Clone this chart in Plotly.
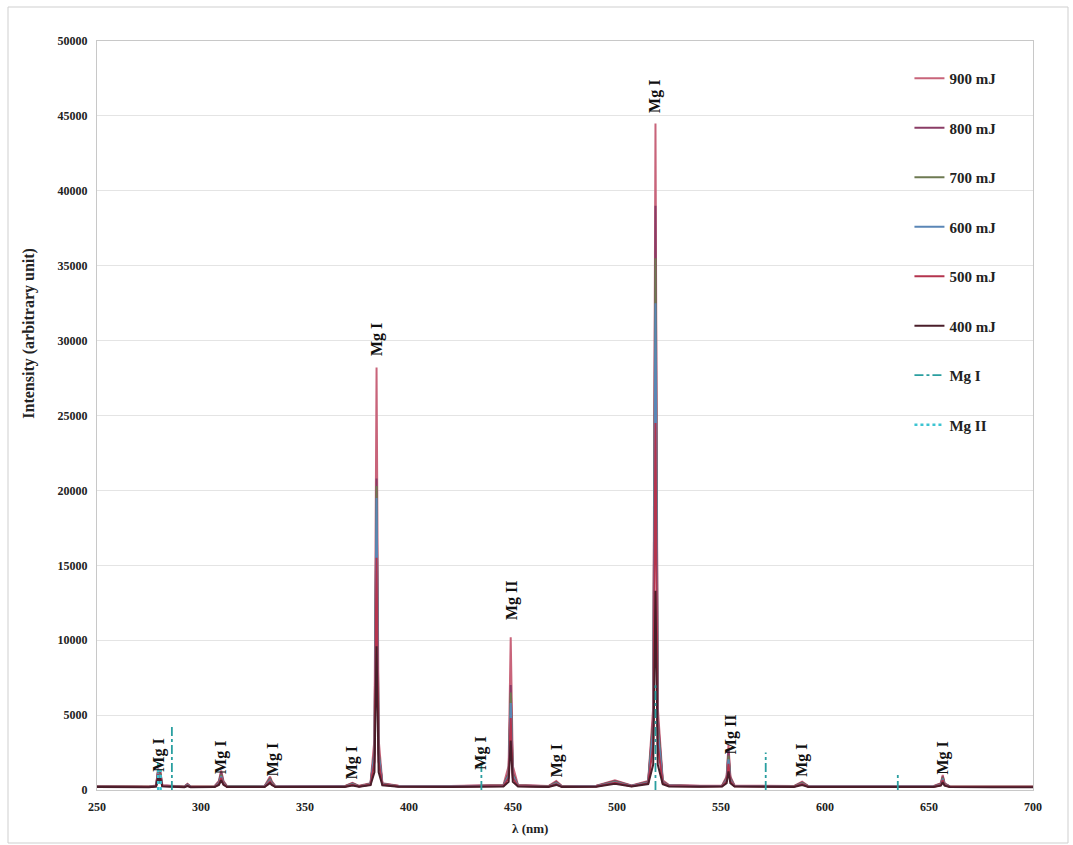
import plotly.graph_objects as go

# ---------------- data ----------------
wavelength = [250, 262, 275, 278.4, 279.4, 279.9, 280.4, 281.4, 292, 293.5,
              295, 306.5, 308.6, 309.7, 310.8, 312.5, 330.5, 333.2, 334.0, 335.8,
              369, 372.8, 376, 381.5, 383.4, 384.4, 385.4, 387.2, 395, 420,
              445.4, 447.9, 448.9, 449.9, 452.4, 467, 470.8, 473.5, 490, 499,
              507, 515.0, 517.4, 518.5, 519.6, 522, 525, 540, 550.5, 552.7,
              553.6, 554.5, 556.5, 585, 589.0, 592, 620, 652, 655.7, 656.6,
              657.5, 660, 680, 700]

i_900 = [260, 250, 240, 300, 1450, 700, 1300, 320, 240, 420,
         240, 250, 600, 1300, 600, 260, 250, 900, 600, 250,
         260, 480, 280, 450, 3400, 28200, 3400, 450, 280, 270,
         330, 1600, 10200, 1600, 330, 260, 600, 260, 280, 650,
         300, 600, 5500, 44500, 5500, 650, 330, 280, 300, 900,
         3000, 900, 300, 260, 560, 260, 250, 250, 450, 1000,
         450, 250, 240, 240]
i_800 = [240, 230, 225, 280, 1350, 650, 1200, 300, 225, 390,
         225, 235, 540, 1150, 540, 240, 235, 800, 540, 235,
         245, 440, 260, 420, 2600, 20800, 2600, 420, 260, 250,
         310, 1150, 7000, 1150, 310, 245, 540, 245, 265, 600,
         285, 550, 4800, 39000, 4800, 560, 310, 265, 285, 800,
         2600, 800, 285, 245, 510, 245, 235, 235, 420, 900,
         420, 235, 225, 225]
i_700 = [230, 220, 215, 270, 1250, 600, 1100, 280, 215, 360,
         215, 225, 490, 1020, 490, 230, 225, 720, 490, 225,
         235, 410, 250, 400, 2500, 20300, 2500, 400, 250, 240,
         295, 1050, 6500, 1050, 295, 235, 490, 235, 255, 560,
         275, 520, 4400, 35500, 4400, 520, 295, 255, 270, 720,
         2300, 720, 270, 235, 470, 235, 225, 225, 390, 820,
         390, 225, 215, 215]
i_600 = [220, 210, 205, 260, 1150, 560, 1000, 270, 205, 330,
         205, 215, 440, 920, 440, 220, 215, 640, 440, 215,
         225, 380, 240, 380, 2400, 19500, 2400, 380, 240, 230,
         280, 950, 5800, 950, 280, 225, 440, 225, 245, 520,
         265, 490, 4000, 32500, 4000, 490, 280, 245, 260, 650,
         2050, 650, 260, 225, 430, 225, 215, 215, 360, 740,
         360, 215, 205, 205]
i_500 = [210, 200, 195, 250, 1050, 520, 950, 260, 195, 300,
         195, 205, 400, 820, 400, 210, 205, 570, 400, 205,
         215, 350, 230, 360, 1900, 15500, 1900, 360, 230, 220,
         265, 800, 4800, 800, 265, 215, 400, 215, 235, 480,
         255, 460, 3000, 24500, 3000, 450, 265, 235, 250, 580,
         1750, 580, 250, 215, 390, 215, 205, 205, 330, 660,
         330, 205, 195, 195]
i_400 = [200, 190, 185, 230, 900, 450, 800, 240, 185, 270,
         185, 195, 340, 650, 340, 200, 195, 460, 340, 195,
         205, 300, 215, 320, 1200, 9600, 1200, 320, 215, 205,
         240, 550, 3300, 550, 240, 205, 340, 205, 220, 420,
         235, 400, 1700, 13300, 1700, 380, 240, 220, 230, 450,
         1250, 450, 230, 205, 330, 205, 195, 195, 290, 520,
         290, 195, 185, 185]

series_names = ["900 mJ", "800 mJ", "700 mJ", "600 mJ", "500 mJ", "400 mJ"]
series_values = [i_900, i_800, i_700, i_600, i_500, i_400]
series_colors = ["#c8647a", "#8a3c66", "#6e7a52", "#5a86b6", "#b4344e", "#4a1e2a"]

# reference lines (NIST)
mg1_lines_x = [286.0, 434.8, 518.5, 571.5, 635.0]
mg1_lines_h = [4300, 2600, 7000, 2500, 1000]
mg2_lines_x = [279.4, 280.6]
mg2_lines_h = [1800, 1700]

# peak labels
label_text = ["Mg I", "Mg I", "Mg I", "Mg I", "Mg I", "Mg I", "Mg II", "Mg I",
              "Mg I", "Mg II", "Mg I", "Mg I"]
label_x = [279.4, 309.7, 334.7, 372.7, 384.6, 434.8, 449.2, 470.9,
           518.5, 554.6, 588.8, 656.6]
label_y = [2300, 2150, 2000, 1800, 30100, 2450, 12700, 1950,
           46300, 3700, 2000, 2150]

y_ticks = [0, 5000, 10000, 15000, 20000, 25000, 30000, 35000, 40000, 45000, 50000]
x_ticks = [250, 300, 350, 400, 450, 500, 550, 600, 650, 700]

# ---------------- figure ----------------
assert all(len(v) == len(wavelength) for v in series_values)

FONT = "Liberation Serif"
fig = go.Figure()

for i, (name, vals, col) in enumerate(zip(series_names, series_values, series_colors)):
    fig.add_trace(go.Scatter(x=wavelength, y=vals, mode="lines",
                             name="<b>%s</b>" % name,
                             line=dict(color=col, width=2),
                             legendgroup="g%d" % i))


def segs(xs, hs):
    sx, sy = [], []
    for x, h in zip(xs, hs):
        sx += [x, x, None]
        sy += [0, h, None]
    return sx, sy


mx, my = segs(mg1_lines_x, mg1_lines_h)
fig.add_trace(go.Scatter(x=mx, y=my, mode="lines", name="<b>Mg I</b>",
                         line=dict(color="#2a9fa0", width=1.8, dash="dashdot"),
                         legendgroup="g6"))
mx, my = segs(mg2_lines_x, mg2_lines_h)
fig.add_trace(go.Scatter(x=mx, y=my, mode="lines", name="<b>Mg II</b>",
                         line=dict(color="#3cc4d2", width=2.4, dash="dot"),
                         legendgroup="g7"))

for t, x, y in zip(label_text, label_x, label_y):
    fig.add_annotation(x=x, y=y, text="<b>%s</b>" % t, textangle=-90,
                       showarrow=False, xanchor="center", yanchor="middle",
                       font=dict(family=FONT, size=16, color="#111111"))

# axis titles as annotations
fig.add_annotation(xref="paper", yref="paper", x=-0.072, y=0.61,
                   text="<b>Intensity (arbitrary unit)</b>", textangle=-90,
                   showarrow=False, xanchor="center", yanchor="middle",
                   font=dict(family=FONT, size=16, color="#222222"))
fig.add_annotation(xref="paper", yref="paper", x=0.4626, y=-0.051,
                   text="<b>λ (nm)</b>", showarrow=False,
                   xanchor="center", yanchor="middle",
                   font=dict(family=FONT, size=13, color="#222222"))

# outer frame of the picture
fig.add_shape(type="rect", xref="paper", yref="paper",
              x0=(8 - 97) / 936, x1=(1068 - 97) / 936,
              y0=(790 - 843) / 749, y1=(790 - 7) / 749,
              line=dict(color="#cfcfcf", width=1), layer="below")

fig.update_layout(
    width=1073, height=845,
    margin=dict(l=97, r=40, t=41, b=55),
    paper_bgcolor="white", plot_bgcolor="white",
    showlegend=True,
    legend=dict(x=0.868, y=0.972, xanchor="left", yanchor="top",
                bgcolor="rgba(0,0,0,0)", traceorder="grouped",
                tracegroupgap=27,
                font=dict(family=FONT, size=15, color="#222222")),
    xaxis=dict(range=[250, 700], tickvals=x_ticks,
               ticktext=["<b>%d</b>" % v for v in x_ticks],
               showgrid=False, zeroline=False, showline=True, mirror=True,
               linecolor="#c8c8c8", linewidth=1, ticks="",
               ticklabelstandoff=6,
               tickfont=dict(family=FONT, size=12, color="#222222")),
    yaxis=dict(range=[0, 50000], tickvals=y_ticks,
               ticktext=["<b>%d</b>" % v for v in y_ticks],
               showgrid=True, gridcolor="#e4e4e4", gridwidth=1,
               zeroline=False, showline=True, mirror=True,
               linecolor="#c8c8c8", linewidth=1, ticks="",
               ticklabelstandoff=6,
               tickfont=dict(family=FONT, size=12, color="#222222")),
)

fig.write_html("out.html")
